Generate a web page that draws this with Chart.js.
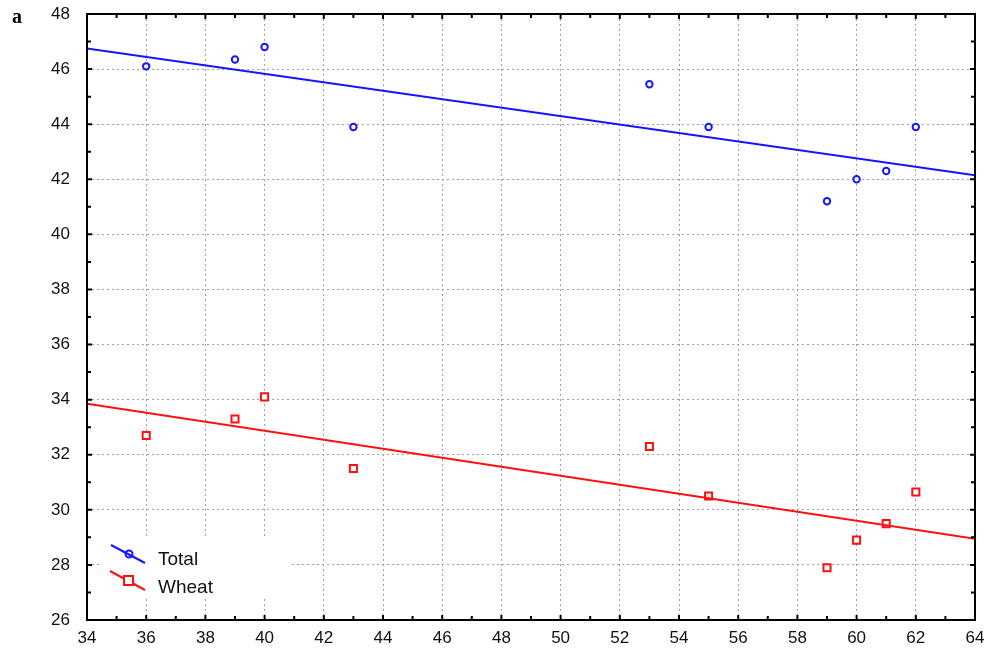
<!DOCTYPE html>
<html>
<head>
<meta charset="utf-8">
<script src="https://cdn.jsdelivr.net/npm/chart.js@4.4.1/dist/chart.umd.min.js"></script>
<style>
  html, body { margin: 0; padding: 0; background: #fff; }
  #wrap { width: 1003px; height: 655px; position: relative; }
</style>
</head>
<body>
<div id="wrap"><canvas id="chart" width="1003" height="655"></canvas></div>
<script>
// x positions of the observations
const xValues = [36, 39, 40, 43, 53, 55, 59, 60, 61, 62];
const totalValues = [46.1, 46.35, 46.8, 43.9, 45.45, 43.9, 41.2, 42.0, 42.3, 43.9];
const wheatValues = [32.7, 33.3, 34.1, 31.5, 32.3, 30.5, 27.9, 28.9, 29.5, 30.65];

// fitted lines, read at the two ends of the axis
const fitX = [34, 64];
const totalFit = [46.75, 42.15];
const wheatFit = [33.85, 28.95];

const xTicks = [34, 36, 38, 40, 42, 44, 46, 48, 50, 52, 54, 56, 58, 60, 62, 64];
const yTicks = [26, 28, 30, 32, 34, 36, 38, 40, 42, 44, 46, 48];

const BLUE = '#1515ff';
const RED = '#ff1010';

function points(xs, ys) {
    return xs.map((x, i) => ({ x: x, y: ys[i] }));
}

const framePlugin = {
    id: 'frame',
    afterDraw(chart) {
        const ctx = chart.ctx;
        const a = chart.chartArea;
        const xs = chart.scales.x, ys = chart.scales.y;
        ctx.save();
        ctx.strokeStyle = '#000';
        ctx.lineWidth = 2;
        ctx.strokeRect(a.left, a.top, a.right - a.left, a.bottom - a.top);
        // inward tick marks, majors and minors
        ctx.beginPath();
        for (let v = 34; v <= 64; v += 1) {
            const px = xs.getPixelForValue(v);
            const len = v % 2 === 0 ? 5 : 4;
            ctx.moveTo(px, a.bottom); ctx.lineTo(px, a.bottom - len);
            ctx.moveTo(px, a.top); ctx.lineTo(px, a.top + len);
        }
        for (let v = 26; v <= 48; v += 1) {
            const py = ys.getPixelForValue(v);
            const len = v % 2 === 0 ? 5 : 4;
            ctx.moveTo(a.left, py); ctx.lineTo(a.left + len, py);
            ctx.moveTo(a.right, py); ctx.lineTo(a.right - len, py);
        }
        ctx.stroke();

        // legend in the lower left corner
        ctx.fillStyle = '#fff';
        ctx.fillRect(100, 537, 192, 62);
        ctx.lineWidth = 2;
        ctx.strokeStyle = BLUE;
        ctx.beginPath(); ctx.moveTo(111, 545); ctx.lineTo(145, 563); ctx.stroke();
        ctx.beginPath(); ctx.arc(129, 554, 3.5, 0, Math.PI * 2); ctx.stroke();
        ctx.strokeStyle = RED;
        ctx.beginPath(); ctx.moveTo(110, 571); ctx.lineTo(145, 590); ctx.stroke();
        ctx.fillStyle = '#fff';
        ctx.fillRect(124, 576, 9, 9);
        ctx.strokeRect(124, 576, 9, 9);
        ctx.fillStyle = '#111';
        ctx.font = '19px "Liberation Sans", Arial, sans-serif';
        ctx.textBaseline = 'middle';
        ctx.textAlign = 'left';
        ctx.fillText('Total', 158, 560);
        ctx.fillText('Wheat', 158, 588);

        // panel letter
        ctx.font = 'bold 20px "Liberation Serif", "Times New Roman", serif';
        ctx.fillStyle = '#000';
        ctx.fillText('a', 12, 18);
        ctx.restore();
    }
};

function noPad(s) {
    s.paddingTop = 0;
    s.paddingBottom = 0;
    s.paddingLeft = 0;
    s.paddingRight = 0;
}

new Chart(document.getElementById('chart'), {
    type: 'scatter',
    data: {
        datasets: [
            {
                label: 'Total fit',
                type: 'line',
                data: points(fitX, totalFit),
                borderColor: BLUE,
                borderWidth: 2,
                pointRadius: 0,
                fill: false
            },
            {
                label: 'Wheat fit',
                type: 'line',
                data: points(fitX, wheatFit),
                borderColor: RED,
                borderWidth: 2,
                pointRadius: 0,
                fill: false
            },
            {
                label: 'Total',
                data: points(xValues, totalValues),
                borderColor: BLUE,
                backgroundColor: '#fff',
                pointStyle: 'circle',
                pointRadius: 3.2,
                borderWidth: 2
            },
            {
                label: 'Wheat',
                data: points(xValues, wheatValues),
                borderColor: RED,
                backgroundColor: '#fff',
                pointStyle: 'rect',
                pointRadius: 5,
                borderWidth: 2
            }
        ]
    },
    options: {
        responsive: false,
        animation: false,
        layout: { padding: { top: 14, right: 28, left: 0, bottom: 0 } },
        plugins: {
            legend: { display: false },
            tooltip: { enabled: false }
        },
        scales: {
            x: {
                type: 'linear',
                min: 34,
                max: 64,
                afterBuildTicks: s => { s.ticks = xTicks.map(v => ({ value: v })); },
                afterFit: s => { s.height = 35; noPad(s); },
                border: { display: false, dash: [2, 3] },
                grid: {
                    color: '#a0a0a0',
                    lineWidth: 1,
                    drawTicks: false
                },
                ticks: {
                    color: '#111',
                    padding: 8,
                    maxRotation: 0,
                    autoSkip: false,
                    font: { family: '"Liberation Sans", Arial, sans-serif', size: 17 }
                }
            },
            y: {
                type: 'linear',
                min: 26,
                max: 48,
                afterBuildTicks: s => { s.ticks = yTicks.map(v => ({ value: v })); },
                afterFit: s => { s.width = 87; noPad(s); },
                border: { display: false, dash: [2, 3] },
                grid: {
                    color: '#a0a0a0',
                    lineWidth: 1,
                    drawTicks: false
                },
                ticks: {
                    color: '#111',
                    padding: 17,
                    autoSkip: false,
                    font: { family: '"Liberation Sans", Arial, sans-serif', size: 17 }
                }
            }
        }
    },
    plugins: [framePlugin]
});
</script>
</body>
</html>
